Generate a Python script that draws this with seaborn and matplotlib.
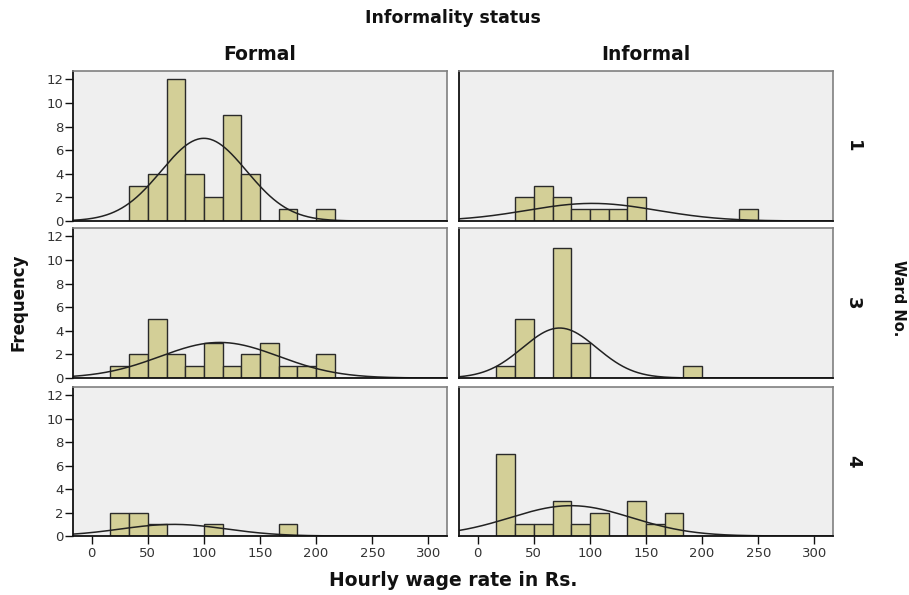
import numpy as np
import pandas as pd
import matplotlib
matplotlib.use("Agg")
import matplotlib.pyplot as plt
import seaborn as sns

sns.set_style("white")
plt.rcParams['font.family'] = ['DejaVu Sans']

# ---- data ----
bin_width = 50 / 3
bin_start = 50 / 3          # left edge of first bin
# counts per bin, bins starting at 16.67 with width 16.67
formal_w1 = [0, 3, 4, 12, 4, 2, 9, 4, 0, 1, 0, 1, 0, 0]
informal_w1 = [0, 2, 3, 2, 1, 1, 1, 2, 0, 0, 0, 0, 0, 1]
formal_w3 = [1, 2, 5, 2, 1, 3, 1, 2, 3, 1, 1, 2, 0, 0]
informal_w3 = [1, 5, 0, 11, 3, 0, 0, 0, 0, 0, 1, 0, 0, 0]
formal_w4 = [2, 2, 1, 0, 0, 1, 0, 0, 0, 1, 0, 0, 0, 0]
informal_w4 = [7, 1, 1, 3, 1, 2, 0, 3, 1, 2, 0, 0, 0, 0]

# fitted normal curve parameters (mean, sd)
formal_w1_fit = (100, 38)
informal_w1_fit = (102, 58)
formal_w3_fit = (114, 53)
informal_w3_fit = (73, 33)
formal_w4_fit = (73, 47)
informal_w4_fit = (83, 54)

wards = ["1", "3", "4"]
statuses = ["Formal", "Informal"]
counts = {("1", "Formal"): formal_w1, ("1", "Informal"): informal_w1,
          ("3", "Formal"): formal_w3, ("3", "Informal"): informal_w3,
          ("4", "Formal"): formal_w4, ("4", "Informal"): informal_w4}
fits = {("1", "Formal"): formal_w1_fit, ("1", "Informal"): informal_w1_fit,
        ("3", "Formal"): formal_w3_fit, ("3", "Informal"): informal_w3_fit,
        ("4", "Formal"): formal_w4_fit, ("4", "Informal"): informal_w4_fit}
y_ticks = [0, 2, 4, 6, 8, 10, 12]
x_ticks = [0, 50, 100, 150, 200, 250, 300]

# ---- figure ----
W, H = 909, 595
fig = plt.figure(figsize=(W / 100, H / 100), dpi=100)

col_x = [73, 459]
col_w = 374
row_y = [(71, 221), (228, 378), (387, 536)]

bar_color = "#d3cf97"
bg = "#efefef"
txt = "#111111"

for r, ward in enumerate(wards):
    y0, y1 = row_y[r]
    for c, st in enumerate(statuses):
        ax = fig.add_axes([col_x[c] / W, (H - y1) / H, col_w / W, (y1 - y0) / H])
        ax.set_facecolor(bg)
        cnt = counts[(ward, st)]
        n = len(cnt)
        centers = [bin_start + bin_width * (i + 0.5) for i in range(n)]
        edges = [bin_start + bin_width * i for i in range(n + 1)]
        df = pd.DataFrame({"x": centers, "w": cnt})
        sns.histplot(data=df, x="x", weights="w", bins=edges, ax=ax,
                     color=bar_color, alpha=1, edgecolor="#2a2a2a", linewidth=1.0)
        mu, sd = fits[(ward, st)]
        N = sum(cnt)
        xs = np.linspace(-16.67, 316.67, 400)
        ys = N * bin_width / (sd * np.sqrt(2 * np.pi)) * np.exp(-0.5 * ((xs - mu) / sd) ** 2)
        sns.lineplot(x=xs, y=ys, ax=ax, color="#222222", linewidth=1.1)
        ax.set_xlim(-16.67, 316.67)
        ax.set_ylim(0, 12.7)
        ax.set_xlabel("")
        ax.set_ylabel("")
        for side in ["top", "right"]:
            ax.spines[side].set_color("#808080")
            ax.spines[side].set_linewidth(1.2)
        for side in ["left", "bottom"]:
            ax.spines[side].set_color("#111111")
            ax.spines[side].set_linewidth(1.3)
        if c == 0:
            ax.set_yticks(y_ticks)
            ax.tick_params(axis="y", length=6, width=1, color="#111111",
                           labelsize=9.5, pad=1, labelcolor="#333333")
        else:
            ax.set_yticks([])
        if r == 2:
            ax.set_xticks(x_ticks)
            ax.tick_params(axis="x", length=6, width=1, color="#111111",
                           labelsize=9.5, pad=2, labelcolor="#333333")
        else:
            ax.set_xticks([])
        ax.tick_params(bottom=(r == 2), left=(c == 0))

# titles and labels
fig.text(453 / W, 1 - 18 / H, "Informality status", ha="center", va="center",
         fontsize=12.5, fontweight="bold", color=txt)
fig.text(260 / W, 1 - 55 / H, "Formal", ha="center", va="center",
         fontsize=13.5, fontweight="bold", color=txt)
fig.text(646 / W, 1 - 55 / H, "Informal", ha="center", va="center",
         fontsize=13.5, fontweight="bold", color=txt)
for r, ward in enumerate(wards):
    y0, y1 = row_y[r]
    fig.text(853 / W, 1 - ((y0 + y1) / 2) / H, ward, ha="center", va="center",
             rotation=270, fontsize=13, fontweight="bold", color=txt)
fig.text(898 / W, 1 - 298 / H, "Ward No.", ha="center", va="center",
         rotation=270, fontsize=10.5, fontweight="bold", color=txt)
fig.text(19 / W, 1 - 302 / H, "Frequency", ha="center", va="center",
         rotation=90, fontsize=12, fontweight="bold", color=txt)
fig.text(453 / W, 1 - 580 / H, "Hourly wage rate in Rs.", ha="center", va="center",
         fontsize=13.5, fontweight="bold", color=txt)

fig.savefig("out.png", dpi=100, facecolor="white")
